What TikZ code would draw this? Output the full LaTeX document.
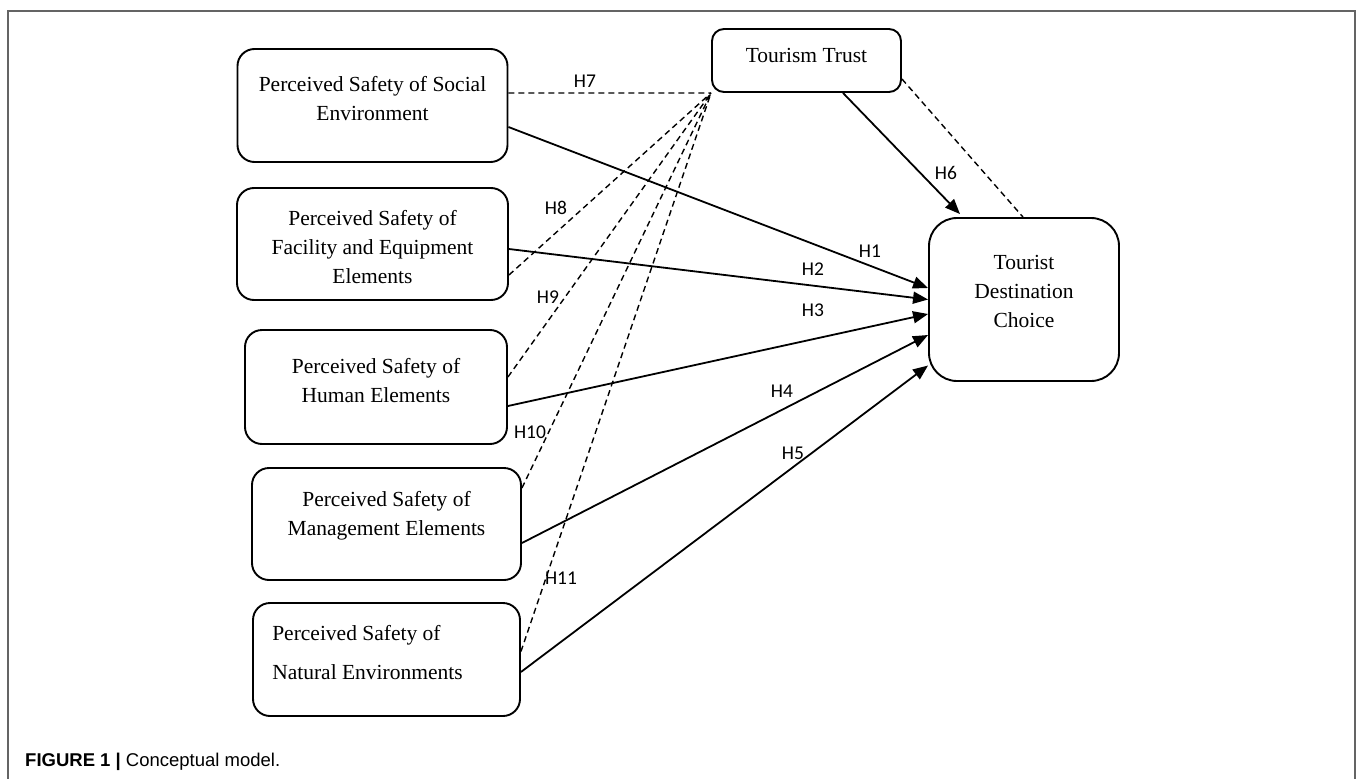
\documentclass[tikz,border=0pt]{standalone}
\usepackage{fontspec}
\setmainfont{Liberation Serif}
\newfontfamily\hypfont{Carlito}
\newfontfamily\capfont{Liberation Sans}
\usepackage{tikz}
\usetikzlibrary{arrows.meta,positioning}
\definecolor{framegray}{RGB}{100,100,100}
\tikzstyle{construct}=[draw, line width=1.9pt, rounded corners=17pt, inner sep=0pt]
\tikzstyle{ctext}=[align=center, font=\fontsize{21.5}{29}\selectfont, inner sep=0pt]
\tikzstyle{hyp}=[font=\hypfont\fontsize{19.5}{22}\selectfont, inner sep=0pt]
\tikzstyle{direct}=[line width=1.8pt, -{Triangle[length=15pt,width=12pt]}]
\tikzstyle{mediate}=[line width=1.4pt, dash pattern=on 6pt off 4pt]

\begin{document}
\begin{tikzpicture}[x=1pt,y=-1pt]
\useasboundingbox (0,0) rectangle (1358,779);
\draw[framegray, line width=1.2pt] (8,779) -- (8,11) -- (1355,11) -- (1355,779);
% constructs
\node[construct, minimum width=270pt, minimum height=113pt] (soc) at (372.5,105.5) {};
\node[construct, minimum width=271pt, minimum height=112pt] (fac) at (372.5,244) {};
\node[construct, minimum width=262pt, minimum height=114pt] (hum) at (376,387) {};
\node[construct, minimum width=269pt, minimum height=112pt] (man) at (386.5,524) {};
\node[construct, minimum width=267pt, minimum height=113pt] (nat) at (386.5,659.5) {};
\node[construct, rounded corners=12pt, minimum width=189pt, minimum height=63pt] (trust) at (806.5,60.5) {};
\node[construct, rounded corners=28pt, minimum width=190pt, minimum height=163pt] (tdc) at (1024,299.5) {};
\node[ctext] (socT) at ([yshift=7pt]soc.center) {Perceived Safety of Social\\Environment};
\node[ctext] (facT) at ([yshift=-3pt]fac.center) {Perceived Safety of\\Facility and Equipment\\Elements};
\node[ctext] (humT) at ([yshift=6.5pt]hum.center) {Perceived Safety of\\Human Elements};
\node[ctext] (manT) at ([yshift=8.5pt]man.center) {Perceived Safety of\\Management Elements};
\node[ctext, align=left, anchor=west] (natT) at ([xshift=20pt,yshift=7pt]nat.west) {Perceived Safety of\\[10pt]Natural Environments};
\node[ctext] (trustT) at ([yshift=5.5pt]trust.center) {Tourism Trust};
\node[ctext] (tdcT) at ([yshift=8pt]tdc.center) {Tourist\\Destination\\Choice};
% direct paths
\draw[direct] ([yshift=-21.5pt]soc.east) -- ([yshift=11.5pt]tdc.west);
\draw[direct] ([yshift=-5pt]fac.east) -- (tdc.west);
\draw[direct] ([yshift=-19pt]hum.east) -- ([yshift=-14.5pt]tdc.west);
\draw[direct] ([yshift=-19pt]man.east) -- ([yshift=-35.5pt]tdc.west);
\draw[direct] ([yshift=-12.5pt]nat.east) -- ([yshift=-66pt]tdc.west);
\draw[direct] ([xshift=36.5pt]trust.south) -- ([xshift=-64pt,yshift=3pt]tdc.north);
% mediating paths
\draw[mediate] ([yshift=12.5pt]soc.east) -- (trust.south west);
\draw[mediate] ([yshift=-31pt]fac.east) -- (trust.south west);
\draw[mediate] ([yshift=10pt]hum.east) -- (trust.south west);
\draw[mediate] ([yshift=36pt]man.east) -- (trust.south west);
\draw[mediate] ([yshift=8pt]nat.east) -- (trust.south west);
\draw[mediate] ([yshift=-18.5pt]trust.east) -- ([xshift=-1pt]tdc.north);
% hypotheses
\node[hyp] (h1) at (870,251) {H1};
\node[hyp] (h2) at (813,269) {H2};
\node[hyp] (h3) at (813,310) {H3};
\node[hyp] (h4) at (782,391) {H4};
\node[hyp] (h5) at (793,453) {H5};
\node[hyp] (h6) at (946,173) {H6};
\node[hyp] (h7) at (585,81) {H7};
\node[hyp] (h8) at (556,208) {H8};
\node[hyp] (h9) at (548,297) {H9};
\node[hyp] (h10) at (530,432) {H10};
\node[hyp] (h11) at (561,578) {H11};
\node[anchor=west, inner sep=0pt, font=\capfont\fontsize{18.5}{22}\selectfont] (caption) at (25,762) {\textbf{FIGURE 1 |} Conceptual model.};
\end{tikzpicture}
\end{document}
